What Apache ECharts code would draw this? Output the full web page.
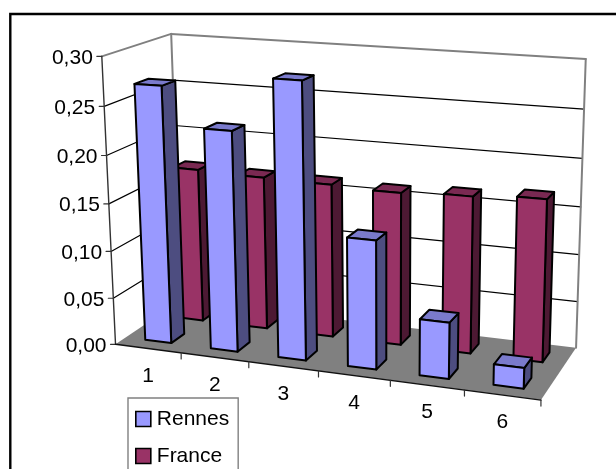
<!DOCTYPE html>
<html>
<head>
<meta charset="utf-8">
<style>html,body{margin:0;padding:0;background:#fff}#chart{width:616px;height:469px}</style>
<script src="https://cdn.jsdelivr.net/npm/echarts@6/dist/echarts.min.js"></script>
</head>
<body>
<div id="chart"></div>
<script>
// Categories, value ticks and the two series of the column chart.
const categories = ['1', '2', '3', '4', '5', '6'];
const valueTicks = [0, 0.05, 0.10, 0.15, 0.20, 0.25, 0.30];
const valueTickLabels = ['0,00', '0,05', '0,10', '0,15', '0,20', '0,25', '0,30'];
const rennes = [0.27, 0.23, 0.285, 0.133, 0.058, 0.021];
const france = [0.167, 0.165, 0.164, 0.162, 0.165, 0.169];

// Depth of each series row inside the box (0 = front edge, 1 = back wall).
const rowDepth = { Rennes: [0.15, 0.35], France: [0.65, 0.85] };
const barShare = 0.4;
const yMax = 0.3;

const FONT = '"Liberation Sans", Arial, sans-serif';
const FONT_SIZE = 21;

// Camera calibration: [category position, value share, depth] -> screen position.
const cameraAnchors = [
  [0, 0, 0, 115, 343.5], [0, 0, 0, 115, 343.5], [1, 0, 0, 180, 353], [2, 0, 0, 248, 362], [3, 0, 0, 318, 372],
  [4, 0, 0, 390, 381], [5, 0, 0, 464, 390], [6, 0, 0, 542, 399], [6, 0, 0, 542, 399],
  [0, 1, 0, 103, 57], [0, 1, 0, 103, 57], [0, 0.5, 0, 109, 203],
  [0, 0, 1, 181, 300], [0, 1, 1, 170, 33], [0, 1, 1, 170, 33], [0, 0.5, 1, 176, 171],
  [6, 0, 1, 576, 347], [6, 0, 1, 576, 347], [6, 1, 1, 586, 59], [6, 1, 1, 586, 59], [6, 0.5, 1, 580, 208],
  [0.3, 0, 0.15, 143.3, 339.3], [2.3, 0, 0.15, 277.7, 357.3], [5.3, 0, 0.15, 494, 385],
  [0.3, 0, 0.65, 182.7, 319.3], [5.7, 0, 0.65, 541.7, 363.3]
];

function solve(A, b) {
  const n = b.length;
  const M = A.map((r, i) => r.concat(b[i]));
  for (let c = 0; c < n; c++) {
    let p = c;
    for (let r = c + 1; r < n; r++) if (Math.abs(M[r][c]) > Math.abs(M[p][c])) p = r;
    [M[c], M[p]] = [M[p], M[c]];
    for (let r = 0; r < n; r++) {
      if (r === c) continue;
      const f = M[r][c] / M[c][c];
      for (let k = c; k <= n; k++) M[r][k] -= f * M[c][k];
    }
  }
  return M.map((r, i) => r[n] / r[i]);
}

// Least-squares fit of the 3x4 projection matrix (last entry fixed to 1).
function fitCamera(points) {
  const rows = [], rhs = [];
  points.forEach(([X, Y, Z, u, v]) => {
    rows.push([X, Y, Z, 1, 0, 0, 0, 0, -u * X, -u * Y, -u * Z]); rhs.push(u);
    rows.push([0, 0, 0, 0, X, Y, Z, 1, -v * X, -v * Y, -v * Z]); rhs.push(v);
  });
  const N = 11;
  const AtA = Array.from({ length: N }, () => new Array(N).fill(0));
  const Atb = new Array(N).fill(0);
  rows.forEach((r, i) => {
    for (let a = 0; a < N; a++) {
      Atb[a] += r[a] * rhs[i];
      for (let c = 0; c < N; c++) AtA[a][c] += r[a] * r[c];
    }
  });
  return solve(AtA, Atb);
}
const cam = fitCamera(cameraAnchors);
function project(X, Y, Z) {
  const w = cam[8] * X + cam[9] * Y + cam[10] * Z + 1;
  return [
    (cam[0] * X + cam[1] * Y + cam[2] * Z + cam[3]) / w,
    (cam[4] * X + cam[5] * Y + cam[6] * Z + cam[7]) / w
  ];
}

// Turns a data position into box coordinates through the chart's own axes,
// then through the camera.
function placer(params, api) {
  const g = params.coordSys;
  return function (catPos, value, depth) {
    const p = api.coord([0, value]);
    const band = api.size([1, 0])[0];
    const x0 = api.coord([0, 0])[0] - band / 2;
    const worldX = ((x0 + catPos * band) - g.x) / g.width * categories.length;
    const worldY = (g.y + g.height - p[1]) / g.height;
    return project(worldX, worldY, depth);
  };
}

function poly(points, fill, stroke, lw) {
  return {
    type: 'polygon',
    shape: { points },
    style: { fill, stroke: stroke || null, lineWidth: lw || 0, lineJoin: 'round' }
  };
}
function line(a, b, stroke, lw) {
  return {
    type: 'line',
    shape: { x1: a[0], y1: a[1], x2: b[0], y2: b[1] },
    style: { stroke, lineWidth: lw, lineCap: 'round' }
  };
}

// Floor, back wall, left wall.
function renderBox(params, api) {
  const at = placer(params, api);
  const n = categories.length;
  const children = [
    poly([at(0, 0, 0), at(0, yMax, 0), at(0, yMax, 1), at(0, 0, 1)], '#fff'),
    poly([at(0, 0, 1), at(0, yMax, 1), at(n, yMax, 1), at(n, 0, 1)], '#fff'),
    poly([at(0, 0, 0), at(n, 0, 0), at(n, 0, 1), at(0, 0, 1)], '#808080')
  ];
  return { type: 'group', children };
}

// One gridline per value tick, with its tick mark and label on the left axis.
function renderValueTick(params, api) {
  const at = placer(params, api);
  const n = categories.length;
  const v = api.value(0);
  const isTop = v >= yMax;
  const front = at(0, v, 0), back = at(0, v, 1), right = at(n, v, 1);
  const stroke = isTop ? '#808080' : '#000';
  const lw = isTop ? 2 : 1.2;
  const children = [];
  if (v > 0) {
    children.push(line(front, back, stroke, lw), line(back, right, stroke, lw));
  }
  children.push(line([front[0] - 5, front[1]], front, '#333', 1.2));
  children.push({
    type: 'text',
    style: {
      text: valueTickLabels[params.dataIndex],
      x: front[0] - 9, y: front[1] + 1.5,
      align: 'right', verticalAlign: 'middle',
      font: FONT_SIZE + 'px ' + FONT, fill: '#000'
    }
  });
  return { type: 'group', children };
}

// Category ticks and category labels along the front edge of the floor.
function renderCategory(params, api) {
  const at = placer(params, api);
  const i = params.dataIndex;
  const tickBase = at(i + 1, 0, 0);
  const mid = at(i + 0.5, 0, 0);
  return {
    type: 'group',
    children: [
      line(tickBase, [tickBase[0], tickBase[1] + 6], '#333', 1.2),
      {
        type: 'text',
        style: {
          text: categories[i], x: mid[0], y: mid[1] + 27.5,
          align: 'center', verticalAlign: 'middle',
          font: FONT_SIZE + 'px ' + FONT, fill: '#000'
        }
      }
    ]
  };
}

// Box edges: grey uprights on the back wall, dark axis lines at the front.
function renderFrameEdges(params, api) {
  const at = placer(params, api);
  const n = categories.length;
  return {
    type: 'group',
    children: [
      line(at(0, 0, 1), at(0, yMax, 1), '#808080', 2),
      line(at(n, 0, 1), at(n, yMax, 1), '#808080', 2),
      line(at(0, 0, 0), at(0, yMax, 0), '#333', 1.4),
      line(at(0, 0, 0), at(n, 0, 0), '#111', 1.4)
    ]
  };
}

// A column: front, top and right faces with black edges.
function barRenderer(rowName, faces) {
  const [z0, z1] = rowDepth[rowName];
  return function (params, api) {
    const at = placer(params, api);
    const i = api.value(0);
    const v = api.value(1);
    const l = i + (1 - barShare) / 2, r = l + barShare;
    const a = at(l, 0, z0), b = at(r, 0, z0), c = at(r, v, z0), d = at(l, v, z0);
    const e = at(r, 0, z1), f = at(r, v, z1), g = at(l, v, z1);
    return {
      type: 'group',
      children: [
        poly([b, e, f, c], faces.side, '#000', 2),
        poly([d, c, f, g], faces.top, '#000', 2),
        poly([a, b, c, d], faces.front, '#000', 2)
      ]
    };
  };
}

const chart = echarts.init(document.getElementById('chart'), null, { renderer: 'canvas' });
const hiddenAxisBits = { axisLine: { show: false }, axisTick: { show: false }, axisLabel: { show: false }, splitLine: { show: false } };
chart.setOption({
  animation: false,
  backgroundColor: '#fff',
  grid: { left: 115, top: 57, width: 427, height: 287 },
  xAxis: { type: 'category', data: categories, ...hiddenAxisBits },
  yAxis: { type: 'value', min: 0, max: yMax, interval: 0.05, ...hiddenAxisBits },
  legend: {
    left: 128, top: 398, orient: 'vertical', height: 140, width: 110,
    padding: [8, 9, 12, 7], itemGap: 11, itemWidth: 15, itemHeight: 15,
    icon: 'rect',
    backgroundColor: '#fff', borderColor: '#808080', borderWidth: 1.4,
    textStyle: { fontFamily: FONT, fontSize: FONT_SIZE, color: '#000', lineHeight: 20, padding: [0, 0, 6, 1] },
    data: [
      { name: 'Rennes', itemStyle: { color: '#9999FF', borderColor: '#000', borderWidth: 1.6 } },
      { name: 'France', itemStyle: { color: '#993366', borderColor: '#000', borderWidth: 1.6 } }
    ]
  },
  graphic: [{
    type: 'rect', z: -10, silent: true,
    shape: { x: 10.3, y: 14, width: 640, height: 480 },
    style: { fill: '#fff', stroke: '#000', lineWidth: 2.4 }
  }],
  series: [
    { type: 'custom', name: 'box', coordinateSystem: 'cartesian2d', data: [[0, 0]], renderItem: renderBox, z: 2, clip: false },
    { type: 'custom', name: 'grid', coordinateSystem: 'cartesian2d', data: valueTicks.map(v => [v]), encode: { y: 0 }, renderItem: renderValueTick, z: 3, clip: false },
    { type: 'custom', name: 'edges', coordinateSystem: 'cartesian2d', data: [[0, 0]], renderItem: renderFrameEdges, z: 3, clip: false },
    { type: 'custom', name: 'cats', coordinateSystem: 'cartesian2d', data: categories.map((c, i) => [i, 0]), renderItem: renderCategory, z: 3, clip: false },
    {
      type: 'custom', name: 'France', coordinateSystem: 'cartesian2d',
      data: france.map((v, i) => [i, v]), z: 4, clip: false,
      itemStyle: { color: '#993366' },
      renderItem: barRenderer('France', { front: '#993366', top: '#7A2952', side: '#4D1933' })
    },
    {
      type: 'custom', name: 'Rennes', coordinateSystem: 'cartesian2d',
      data: rennes.map((v, i) => [i, v]), z: 5, clip: false,
      itemStyle: { color: '#9999FF' },
      renderItem: barRenderer('Rennes', { front: '#9999FF', top: '#7A7ACC', side: '#4D4D80' })
    }
  ]
});
</script>
</body>
</html>
